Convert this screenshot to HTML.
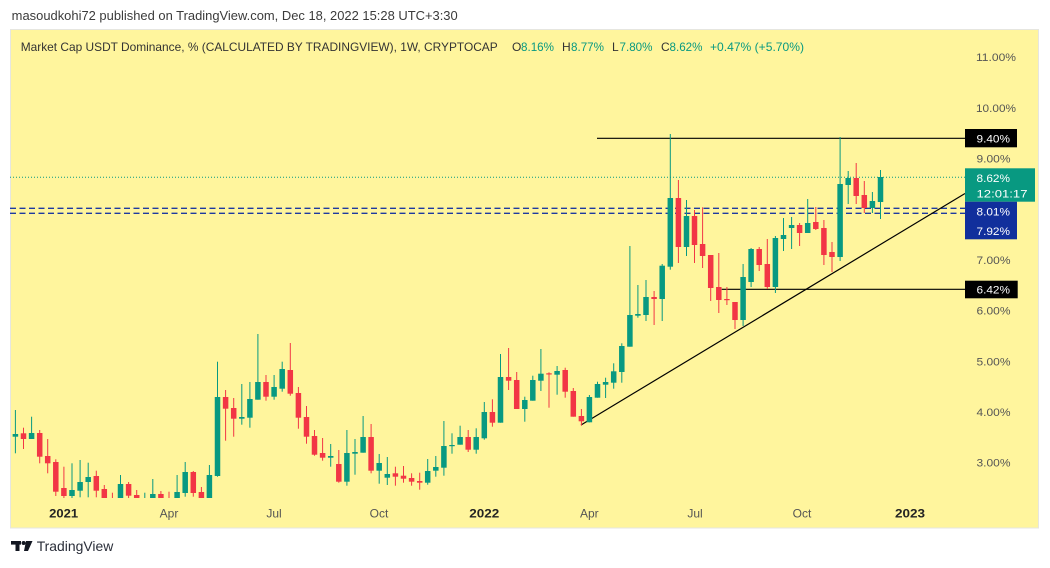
<!DOCTYPE html>
<html><head><meta charset="utf-8"><style>
html,body{margin:0;padding:0;background:#fff;width:1050px;height:568px;overflow:hidden}
svg{display:block}
text{font-family:"Liberation Sans",Arial,sans-serif}
</style></head><body>
<svg width="1050" height="568" viewBox="0 0 1050 568" xmlns="http://www.w3.org/2000/svg">
<defs><clipPath id="pane"><rect x="10" y="30" width="955" height="468"/></clipPath></defs>
<text x="11.7" y="20" font-size="12.5" fill="#3b3b3b" textLength="446" lengthAdjust="spacingAndGlyphs">masoudkohi72 published on TradingView.com, Dec 18, 2022 15:28 UTC+3:30</text>
<rect x="10.5" y="29.5" width="1028" height="498.5" fill="#fff59d" stroke="#e6e6e0" stroke-width="1"/>
<text x="20.7" y="51" font-size="12" fill="#333" textLength="477" lengthAdjust="spacingAndGlyphs">Market Cap USDT Dominance, % (CALCULATED BY TRADINGVIEW), 1W, CRYPTOCAP</text>
<text x="512" y="51" font-size="12" fill="#333">O</text><text x="521" y="51" font-size="12" fill="#089981" textLength="33" lengthAdjust="spacingAndGlyphs">8.16%</text>
<text x="562" y="51" font-size="12" fill="#333">H</text><text x="571" y="51" font-size="12" fill="#089981" textLength="33" lengthAdjust="spacingAndGlyphs">8.77%</text>
<text x="612" y="51" font-size="12" fill="#333">L</text><text x="619.5" y="51" font-size="12" fill="#089981" textLength="33" lengthAdjust="spacingAndGlyphs">7.80%</text>
<text x="661" y="51" font-size="12" fill="#333">C</text><text x="669.5" y="51" font-size="12" fill="#089981" textLength="33" lengthAdjust="spacingAndGlyphs">8.62%</text>
<text x="710" y="51" font-size="12" fill="#089981" textLength="94" lengthAdjust="spacingAndGlyphs">+0.47% (+5.70%)</text>

<!-- price lines -->
<line x1="10" y1="177.3" x2="965" y2="177.3" stroke="#089981" stroke-width="1" stroke-dasharray="1,2"/>
<line x1="10" y1="208.3" x2="965" y2="208.3" stroke="#1e3aa0" stroke-width="1.4" stroke-dasharray="6,3.5"/>
<line x1="10" y1="213.3" x2="965" y2="213.3" stroke="#1e3aa0" stroke-width="1.4" stroke-dasharray="6,3.5"/>
<line x1="597" y1="138.3" x2="965" y2="138.3" stroke="#000" stroke-width="1.2"/>
<line x1="721.7" y1="289.3" x2="965" y2="289.3" stroke="#000" stroke-width="1.2"/>
<line x1="581" y1="425" x2="965" y2="193.5" stroke="#000" stroke-width="1.2"/>

<g clip-path="url(#pane)">
<g fill="#089981">
<rect x="14.9" y="410" width="1" height="43.3"/><rect x="12.65" y="434" width="5.5" height="2.7"/>
<rect x="31.1" y="416.7" width="1" height="22.3"/><rect x="28.85" y="433" width="5.5" height="6"/>
<rect x="71.5" y="463.3" width="1" height="37"/><rect x="69.25" y="490" width="5.5" height="6"/>
<rect x="79.6" y="460" width="1" height="37.3"/><rect x="77.35" y="482" width="5.5" height="8.7"/>
<rect x="87.7" y="462.7" width="1" height="34.6"/><rect x="85.45" y="477" width="5.5" height="5"/>
<rect x="120" y="475" width="1" height="25"/><rect x="117.75" y="484" width="5.5" height="16"/>
<rect x="144.3" y="492.7" width="1" height="8"/>
<rect x="152.3" y="479" width="1" height="21"/><rect x="150.05" y="494" width="5.5" height="6"/>
<rect x="176.6" y="475" width="1" height="25"/><rect x="174.35" y="492" width="5.5" height="8"/>
<rect x="184.7" y="462" width="1" height="34.7"/><rect x="182.45" y="472" width="5.5" height="21"/>
<rect x="208.9" y="465" width="1" height="35"/><rect x="206.65" y="475" width="5.5" height="25"/>
<rect x="217" y="361.7" width="1" height="115"/><rect x="214.75" y="397" width="5.5" height="79"/>
<rect x="241.3" y="384" width="1" height="40.7"/><rect x="239.05" y="417" width="5.5" height="1.7"/>
<rect x="249.4" y="382" width="1" height="45.7"/><rect x="247.15" y="399" width="5.5" height="18.7"/>
<rect x="257.4" y="334" width="1" height="65.7"/><rect x="255.15" y="382" width="5.5" height="17.7"/>
<rect x="273.6" y="375" width="1" height="24.7"/><rect x="271.35" y="387" width="5.5" height="9.7"/>
<rect x="281.7" y="361.7" width="1" height="30"/><rect x="279.45" y="369" width="5.5" height="19.7"/>
<rect x="330.2" y="444" width="1" height="22.7"/><rect x="327.95" y="456" width="5.5" height="1.7"/>
<rect x="346.4" y="430" width="1" height="55.7"/><rect x="344.15" y="453" width="5.5" height="28.7"/>
<rect x="354.5" y="439" width="1" height="35.7"/><rect x="352.25" y="452" width="5.5" height="1.7"/>
<rect x="362.6" y="416" width="1" height="36.7"/><rect x="360.35" y="437" width="5.5" height="15.7"/>
<rect x="378.7" y="454" width="1" height="29.7"/><rect x="376.45" y="463" width="5.5" height="7.7"/>
<rect x="386.8" y="457" width="1" height="28"/><rect x="384.55" y="474" width="5.5" height="3.7"/>
<rect x="427.2" y="459" width="1" height="25.7"/><rect x="424.95" y="471" width="5.5" height="11.7"/>
<rect x="435.3" y="456" width="1" height="20.7"/><rect x="433.05" y="467" width="5.5" height="3.7"/>
<rect x="443.4" y="421" width="1" height="54.7"/><rect x="441.15" y="446" width="5.5" height="21.7"/>
<rect x="451.5" y="433.3" width="1" height="20.4"/><rect x="449.25" y="445" width="5.5" height="1.2"/>
<rect x="459.6" y="425.7" width="1" height="19"/><rect x="457.35" y="437" width="5.5" height="7.7"/>
<rect x="475.7" y="428.3" width="1" height="25.4"/><rect x="473.45" y="437" width="5.5" height="12.7"/>
<rect x="483.8" y="402" width="1" height="37.7"/><rect x="481.55" y="412" width="5.5" height="26.3"/>
<rect x="500" y="354" width="1" height="68.7"/><rect x="497.75" y="377" width="5.5" height="45.7"/>
<rect x="524.3" y="396.7" width="1" height="25"/><rect x="522.05" y="400" width="5.5" height="9"/>
<rect x="532.3" y="375.7" width="1" height="25"/><rect x="530.05" y="380" width="5.5" height="20.7"/>
<rect x="540.4" y="349" width="1" height="42"/><rect x="538.15" y="373.7" width="5.5" height="7"/>
<rect x="556.6" y="366" width="1" height="28.7"/><rect x="554.35" y="371" width="5.5" height="3.7"/>
<rect x="588.9" y="395" width="1" height="27.3"/><rect x="586.65" y="397" width="5.5" height="25.3"/>
<rect x="597" y="381.7" width="1" height="16"/><rect x="594.75" y="384" width="5.5" height="13.7"/>
<rect x="605.1" y="377.7" width="1" height="20.3"/><rect x="602.85" y="382" width="5.5" height="2.7"/>
<rect x="613.2" y="363.3" width="1" height="25.4"/><rect x="610.95" y="371.3" width="5.5" height="11.4"/>
<rect x="621.3" y="343.3" width="1" height="39.4"/><rect x="619.05" y="346" width="5.5" height="26"/>
<rect x="629.4" y="246" width="1" height="100.7"/><rect x="627.15" y="315" width="5.5" height="31.7"/>
<rect x="637.4" y="285" width="1" height="32.7"/><rect x="635.15" y="314" width="5.5" height="1.7"/>
<rect x="645.5" y="280" width="1" height="41"/><rect x="643.25" y="297" width="5.5" height="18"/>
<rect x="661.7" y="264" width="1" height="57"/><rect x="659.45" y="265.7" width="5.5" height="33.3"/>
<rect x="669.8" y="134" width="1" height="135.7"/><rect x="667.55" y="198" width="5.5" height="68.7"/>
<rect x="686" y="200" width="1" height="56"/><rect x="683.75" y="216" width="5.5" height="31"/>
<rect x="742.6" y="264" width="1" height="62"/><rect x="740.35" y="277" width="5.5" height="43"/>
<rect x="750.6" y="248" width="1" height="39"/><rect x="748.35" y="249" width="5.5" height="33"/>
<rect x="774.9" y="236" width="1" height="57"/><rect x="772.65" y="238" width="5.5" height="49"/>
<rect x="783" y="218" width="1" height="33"/><rect x="780.75" y="235" width="5.5" height="4"/>
<rect x="791.1" y="217" width="1" height="32"/><rect x="788.85" y="225" width="5.5" height="3"/>
<rect x="807.2" y="199" width="1" height="34"/><rect x="804.95" y="223" width="5.5" height="10"/>
<rect x="839.6" y="137" width="1" height="124"/><rect x="837.35" y="184" width="5.5" height="73"/>
<rect x="847.7" y="171" width="1" height="33"/><rect x="845.45" y="178" width="5.5" height="7"/>
<rect x="871.9" y="192" width="1" height="21"/><rect x="869.65" y="201" width="5.5" height="7"/>
<rect x="880" y="170" width="1" height="49"/><rect x="877.75" y="177" width="5.5" height="25"/>
</g>
<g fill="#f23645">
<rect x="23" y="427.7" width="1" height="21.3"/><rect x="20.75" y="433.3" width="5.5" height="5.7"/>
<rect x="39.2" y="430" width="1" height="33.3"/><rect x="36.95" y="433" width="5.5" height="23.7"/>
<rect x="47.2" y="439" width="1" height="34.3"/><rect x="44.95" y="456" width="5.5" height="7.3"/>
<rect x="55.3" y="459.3" width="1" height="36.7"/><rect x="53.05" y="462" width="5.5" height="29.7"/>
<rect x="63.4" y="466.7" width="1" height="33"/><rect x="61.15" y="488" width="5.5" height="8"/>
<rect x="95.8" y="470.7" width="1" height="26.6"/><rect x="93.55" y="476" width="5.5" height="14.7"/>
<rect x="103.8" y="485" width="1" height="15"/><rect x="101.55" y="489" width="5.5" height="11"/>
<rect x="111.9" y="492.7" width="1" height="8"/>
<rect x="128.1" y="482" width="1" height="18"/><rect x="125.85" y="484" width="5.5" height="11.7"/>
<rect x="136.2" y="490" width="1" height="10"/><rect x="133.95" y="495" width="5.5" height="5"/>
<rect x="160.4" y="491" width="1" height="9"/><rect x="158.15" y="494" width="5.5" height="6"/>
<rect x="168.5" y="491.7" width="1" height="9"/>
<rect x="192.8" y="471" width="1" height="25.7"/><rect x="190.55" y="472" width="5.5" height="21"/>
<rect x="200.9" y="487" width="1" height="13"/><rect x="198.65" y="492" width="5.5" height="8"/>
<rect x="225.1" y="390" width="1" height="50.7"/><rect x="222.85" y="397" width="5.5" height="11.7"/>
<rect x="233.2" y="398" width="1" height="38.7"/><rect x="230.95" y="408" width="5.5" height="10.7"/>
<rect x="265.5" y="375" width="1" height="25.7"/><rect x="263.25" y="382" width="5.5" height="14.7"/>
<rect x="289.8" y="343" width="1" height="52.7"/><rect x="287.55" y="370" width="5.5" height="23.7"/>
<rect x="297.9" y="387" width="1" height="41.7"/><rect x="295.65" y="393" width="5.5" height="24.7"/>
<rect x="306" y="406" width="1" height="37.7"/><rect x="303.75" y="417" width="5.5" height="19.7"/>
<rect x="314" y="430" width="1" height="25.7"/><rect x="311.75" y="436" width="5.5" height="18.7"/>
<rect x="322.1" y="438" width="1" height="22.7"/><rect x="319.85" y="453" width="5.5" height="4.7"/>
<rect x="338.3" y="450" width="1" height="32.7"/><rect x="336.05" y="464" width="5.5" height="17.7"/>
<rect x="370.6" y="424" width="1" height="49.3"/><rect x="368.35" y="437" width="5.5" height="33.7"/>
<rect x="394.9" y="466.7" width="1" height="19"/><rect x="392.65" y="473.3" width="5.5" height="3.4"/>
<rect x="403" y="466" width="1" height="16.7"/><rect x="400.75" y="475.7" width="5.5" height="3"/>
<rect x="411.1" y="473.3" width="1" height="12.4"/><rect x="408.85" y="478" width="5.5" height="3.7"/>
<rect x="419.2" y="472.7" width="1" height="17"/><rect x="416.95" y="481" width="5.5" height="1.7"/>
<rect x="467.7" y="430" width="1" height="22"/><rect x="465.45" y="437" width="5.5" height="12.7"/>
<rect x="491.9" y="399.3" width="1" height="27.4"/><rect x="489.65" y="412" width="5.5" height="10.7"/>
<rect x="508.1" y="348" width="1" height="42"/><rect x="505.85" y="377" width="5.5" height="3.7"/>
<rect x="516.2" y="372" width="1" height="37"/><rect x="513.95" y="380" width="5.5" height="29"/>
<rect x="548.5" y="372.3" width="1" height="35.4"/><rect x="546.25" y="373.3" width="5.5" height="1.2"/>
<rect x="564.7" y="367.7" width="1" height="30"/><rect x="562.45" y="370" width="5.5" height="21.7"/>
<rect x="572.8" y="388" width="1" height="28.7"/><rect x="570.55" y="391" width="5.5" height="25.7"/>
<rect x="580.9" y="409" width="1" height="16.7"/><rect x="578.65" y="416" width="5.5" height="5.3"/>
<rect x="653.6" y="291" width="1" height="34"/><rect x="651.35" y="297" width="5.5" height="2"/>
<rect x="677.9" y="180" width="1" height="83"/><rect x="675.65" y="198" width="5.5" height="49"/>
<rect x="694" y="210" width="1" height="53"/><rect x="691.75" y="216" width="5.5" height="29"/>
<rect x="702.1" y="207.3" width="1" height="60.7"/><rect x="699.85" y="244" width="5.5" height="12"/>
<rect x="710.2" y="255" width="1" height="46"/><rect x="707.95" y="255" width="5.5" height="33"/>
<rect x="718.3" y="253" width="1" height="60"/><rect x="716.05" y="287" width="5.5" height="13"/>
<rect x="726.4" y="287" width="1" height="18"/><rect x="724.15" y="299" width="5.5" height="1.2"/>
<rect x="734.5" y="302" width="1" height="27"/><rect x="732.25" y="302" width="5.5" height="18"/>
<rect x="758.7" y="247" width="1" height="24"/><rect x="756.45" y="249" width="5.5" height="16"/>
<rect x="766.8" y="239" width="1" height="50"/><rect x="764.55" y="264" width="5.5" height="23"/>
<rect x="799.1" y="223" width="1" height="23"/><rect x="796.85" y="225" width="5.5" height="8"/>
<rect x="815.3" y="207" width="1" height="23"/><rect x="813.05" y="222" width="5.5" height="7"/>
<rect x="823.4" y="220" width="1" height="45"/><rect x="821.15" y="228" width="5.5" height="27"/>
<rect x="831.5" y="242" width="1" height="30"/><rect x="829.25" y="252" width="5.5" height="5"/>
<rect x="855.7" y="163" width="1" height="41"/><rect x="853.45" y="178" width="5.5" height="18"/>
<rect x="863.8" y="181" width="1" height="32"/><rect x="861.55" y="195" width="5.5" height="13"/>
</g>
</g>

<!-- price axis -->
<g font-size="11" fill="#555">
<text x="976" y="61.2" textLength="40" lengthAdjust="spacingAndGlyphs">11.00%</text>
<text x="976" y="111.9" textLength="40" lengthAdjust="spacingAndGlyphs">10.00%</text>
<text x="976.5" y="162.6" textLength="34" lengthAdjust="spacingAndGlyphs">9.00%</text>
<text x="976.5" y="264" textLength="34" lengthAdjust="spacingAndGlyphs">7.00%</text>
<text x="976.5" y="314.6" textLength="34" lengthAdjust="spacingAndGlyphs">6.00%</text>
<text x="976.5" y="365.3" textLength="34" lengthAdjust="spacingAndGlyphs">5.00%</text>
<text x="976.5" y="416" textLength="34" lengthAdjust="spacingAndGlyphs">4.00%</text>
<text x="976.5" y="466.6" textLength="34" lengthAdjust="spacingAndGlyphs">3.00%</text>
</g>
<rect x="965" y="129" width="52" height="18.3" fill="#000"/>
<text x="976.5" y="142.3" font-size="11" fill="#fff" textLength="33.5" lengthAdjust="spacingAndGlyphs">9.40%</text>
<rect x="965" y="168.3" width="70" height="33.4" fill="#089981"/>
<text x="976.5" y="182" font-size="11" fill="#fff" textLength="33.5" lengthAdjust="spacingAndGlyphs">8.62%</text>
<text x="976.5" y="197.3" font-size="11" fill="#fff" textLength="51" lengthAdjust="spacingAndGlyphs">12:01:17</text>
<rect x="965" y="201.7" width="52" height="37.6" fill="#112f9c"/>
<text x="976.5" y="215.5" font-size="11" fill="#fff" textLength="33.5" lengthAdjust="spacingAndGlyphs">8.01%</text>
<text x="976.5" y="235" font-size="11" fill="#fff" textLength="33.5" lengthAdjust="spacingAndGlyphs">7.92%</text>
<rect x="965" y="280.7" width="52.7" height="17.6" fill="#000"/>
<text x="976.5" y="293.6" font-size="11" fill="#fff" textLength="33.5" lengthAdjust="spacingAndGlyphs">6.42%</text>

<!-- time axis -->
<g font-size="12" text-anchor="middle">
<text x="63.7" y="517.5" fill="#222" font-weight="bold" textLength="29" lengthAdjust="spacingAndGlyphs">2021</text>
<text x="169" y="517.5" fill="#555">Apr</text>
<text x="274" y="517.5" fill="#555">Jul</text>
<text x="379" y="517.5" fill="#555">Oct</text>
<text x="484.3" y="517.5" fill="#222" font-weight="bold" textLength="30" lengthAdjust="spacingAndGlyphs">2022</text>
<text x="589.3" y="517.5" fill="#555">Apr</text>
<text x="695" y="517.5" fill="#555">Jul</text>
<text x="802" y="517.5" fill="#555">Oct</text>
<text x="910" y="517.5" fill="#222" font-weight="bold" textLength="30" lengthAdjust="spacingAndGlyphs">2023</text>
</g>

<!-- logo -->
<g fill="#131722">
<rect x="11" y="541" width="10" height="3.6"/>
<rect x="15.5" y="541" width="4" height="10"/>
<circle cx="23.6" cy="543" r="2"/>
<polygon points="26,541 32.5,541 28,551 24,551"/>
</g>
<text x="36.7" y="551" font-size="14" fill="#2a2e39" textLength="76.6" lengthAdjust="spacingAndGlyphs">TradingView</text>
</svg>
</body></html>
